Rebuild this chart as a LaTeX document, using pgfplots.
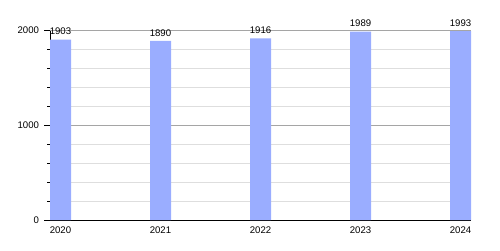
\documentclass[border=0pt]{standalone}
\usepackage{fontspec}
\setmainfont{Liberation Sans}
\usepackage{pgfplots}
\pgfplotsset{compat=1.18}
\definecolor{barblue}{RGB}{154,173,255}
\definecolor{majgrid}{RGB}{165,165,165}
\definecolor{mingrid}{RGB}{222,222,222}
\begin{document}
\begin{tikzpicture}
\begin{axis}[
  name=ax,
  scale only axis,
  width=421pt, height=189.5pt,
  xmin=-0.105, xmax=4.105,
  ymin=0, ymax=2000,
  axis x line=bottom, axis y line=left,
  axis line style={-, black, line width=0.9pt},
  xtick={0,1,2,3,4},
  xticklabels={2020,2021,2022,2023,2024},
  major x tick style={draw=none},
  ytick={0,1000,2000},
  minor y tick num=4,
  tick align=outside,
  major tick length=5.5pt, minor tick length=2.5pt,
  tick style={black, line width=0.6pt},
  ymajorgrids, yminorgrids,
  major grid style={majgrid, line width=0.8pt},
  minor grid style={mingrid, line width=0.6pt},
  scaled y ticks=false,
  /pgf/number format/1000 sep={},
  /pgf/number format/assume math mode=true,
  ticklabel style={font=\fontsize{9.6}{11}\selectfont},
  yticklabel style={xshift=-2pt},
  xticklabel style={yshift=2.5pt},
  nodes near coords,
  every node near coord/.append style={font=\fontsize{9.6}{11}\selectfont, inner sep=0pt, yshift=4.5pt, black},
]
\addplot[ybar, bar width=21pt, fill=barblue, draw=none] coordinates {
  (0,1903) (1,1890) (2,1916) (3,1989) (4,1993)
};
\end{axis}
\useasboundingbox ([xshift=-50pt,yshift=-30pt]ax.south west) rectangle ++(500pt,250pt);
\end{tikzpicture}
\end{document}
